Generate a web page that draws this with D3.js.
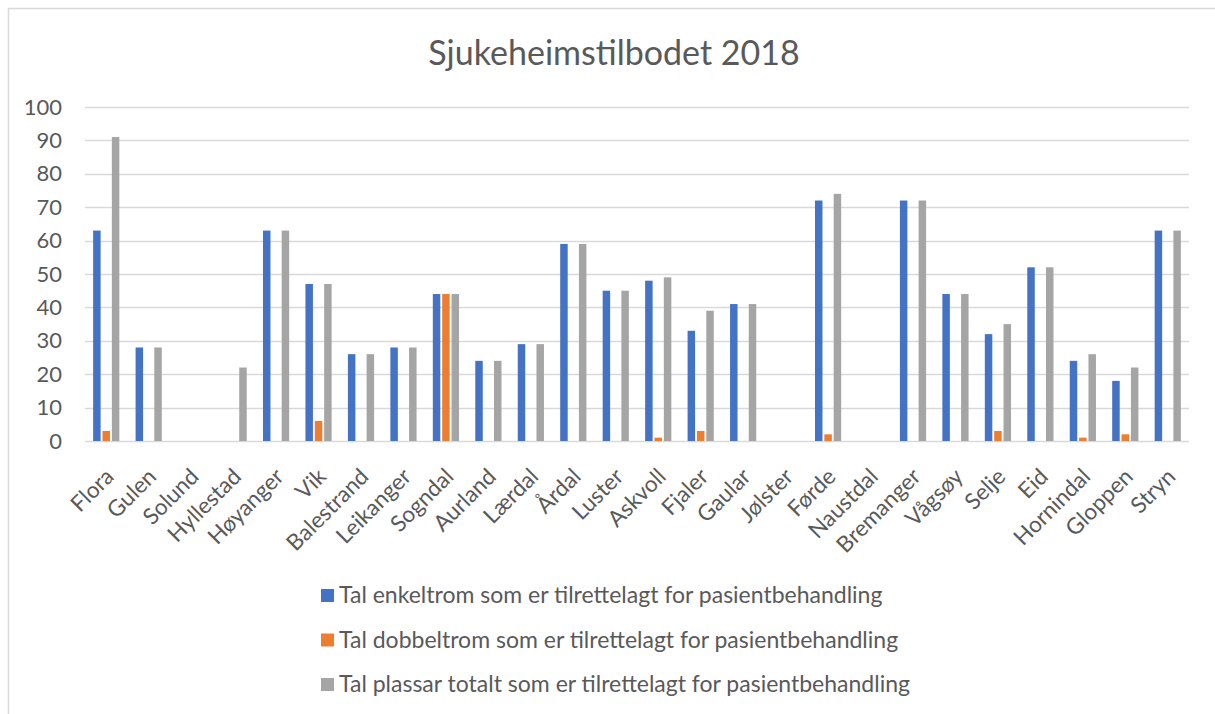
<!DOCTYPE html>
<html><head><meta charset="utf-8">
<script src="https://cdn.jsdelivr.net/npm/d3@7"></script>
<style>body{margin:0;background:#fff;} svg{display:block;}</style>
</head><body>
<svg id="chart" width="1215" height="714"></svg>
<script>
const categories = ["Flora","Gulen","Solund","Hyllestad","Høyanger","Vik","Balestrand","Leikanger","Sogndal","Aurland","Lærdal","Årdal","Luster","Askvoll","Fjaler","Gaular","Jølster","Førde","Naustdal","Bremanger","Vågsøy","Selje","Eid","Hornindal","Gloppen","Stryn"];
const enkeltrom  = [63,28,0,0,63,47,26,28,44,24,29,59,45,48,33,41,0,72,0,72,44,32,52,24,18,63];
const dobbeltrom = [3,0,0,0,0,6,0,0,44,0,0,0,0,1,3,0,0,2,0,0,0,3,0,1,2,0];
const totalt     = [91,28,0,22,63,47,26,28,44,24,29,59,45,49,39,41,0,74,0,72,44,35,52,26,22,63];
const seriesNames = ["Tal enkeltrom som er tilrettelagt for pasientbehandling","Tal dobbeltrom som er tilrettelagt for pasientbehandling","Tal plassar totalt som er tilrettelagt for pasientbehandling"];
const colors = ["#4472C4","#ED7D31","#A5A5A5"];
const yTicks = [0,10,20,30,40,50,60,70,80,90,100];
const title = "Sjukeheimstilbodet 2018";

const seriesData = [enkeltrom, dobbeltrom, totalt];
const FONT = "Lato, 'Open Sans', sans-serif";
const TXT = "#595959";
const svg = d3.select("#chart");

// border
svg.append("path").attr("d","M8.5,714 V8.5 H1215").attr("fill","none").attr("stroke","#D9D9D9").attr("stroke-width",1.5);

const x0 = d3.scaleBand().domain(categories).range([85,1189]).paddingInner(0).paddingOuter(0);
const groupW = 26.2;
const x1 = d3.scaleBand().domain([0,1,2]).range([(x0.bandwidth()-groupW)/2,(x0.bandwidth()+groupW)/2]).paddingInner(0.2).paddingOuter(0);
const y = d3.scaleLinear().domain([0,100]).range([441,107]);

// gridlines
svg.append("g").selectAll("line").data(yTicks).join("line")
  .attr("x1",85).attr("x2",1189)
  .attr("y1",d=>Math.round(y(d))+0.5).attr("y2",d=>Math.round(y(d))+0.5)
  .attr("stroke","#D9D9D9").attr("stroke-width",1.3);

// y axis labels
const yAxis = d3.axisLeft(y).tickValues(yTicks).tickSize(0).tickPadding(0);
const gy = svg.append("g").attr("transform","translate(62,0)").call(yAxis);
gy.select(".domain").remove();
gy.selectAll("text").attr("font-family",FONT).attr("font-size",22).attr("fill",TXT);

// bars
const groups = svg.append("g").selectAll("g").data(categories).join("g")
  .attr("transform",d=>`translate(${x0(d)},0)`);
groups.selectAll("rect").data((d,i)=>seriesData.map((s,k)=>({k,v:s[i]}))).join("rect")
  .attr("x",d=>x1(d.k)).attr("width",x1.bandwidth())
  .attr("y",d=>y(d.v)).attr("height",d=>y(0)-y(d.v))
  .attr("fill",d=>colors[d.k]);

// x axis labels
const xAxis = d3.axisBottom(x0).tickSize(0).tickPadding(0);
const gx = svg.append("g").attr("transform","translate(0,441)").call(xAxis);
gx.select(".domain").remove();
gx.selectAll("text")
  .attr("font-family",FONT).attr("font-size",22.5).attr("fill",TXT)
  .attr("text-anchor","end").attr("dy",null).attr("y",0)
  .attr("transform","translate(9,37) rotate(-45)");

// title
svg.append("text").attr("x",614).attr("y",65).attr("text-anchor","middle")
  .attr("font-family",FONT).attr("font-size",34).attr("fill",TXT).text(title);

// legend
const lg = svg.append("g").selectAll("g").data(seriesNames).join("g")
  .attr("transform",(d,i)=>`translate(321,${589+i*44.5})`);
lg.append("rect").attr("width",13).attr("height",13).attr("fill",(d,i)=>colors[i]);
lg.append("text").attr("x",18).attr("y",14).attr("font-family",FONT).attr("font-size",23).attr("fill",TXT).text(d=>d);
</script>
</body></html>
